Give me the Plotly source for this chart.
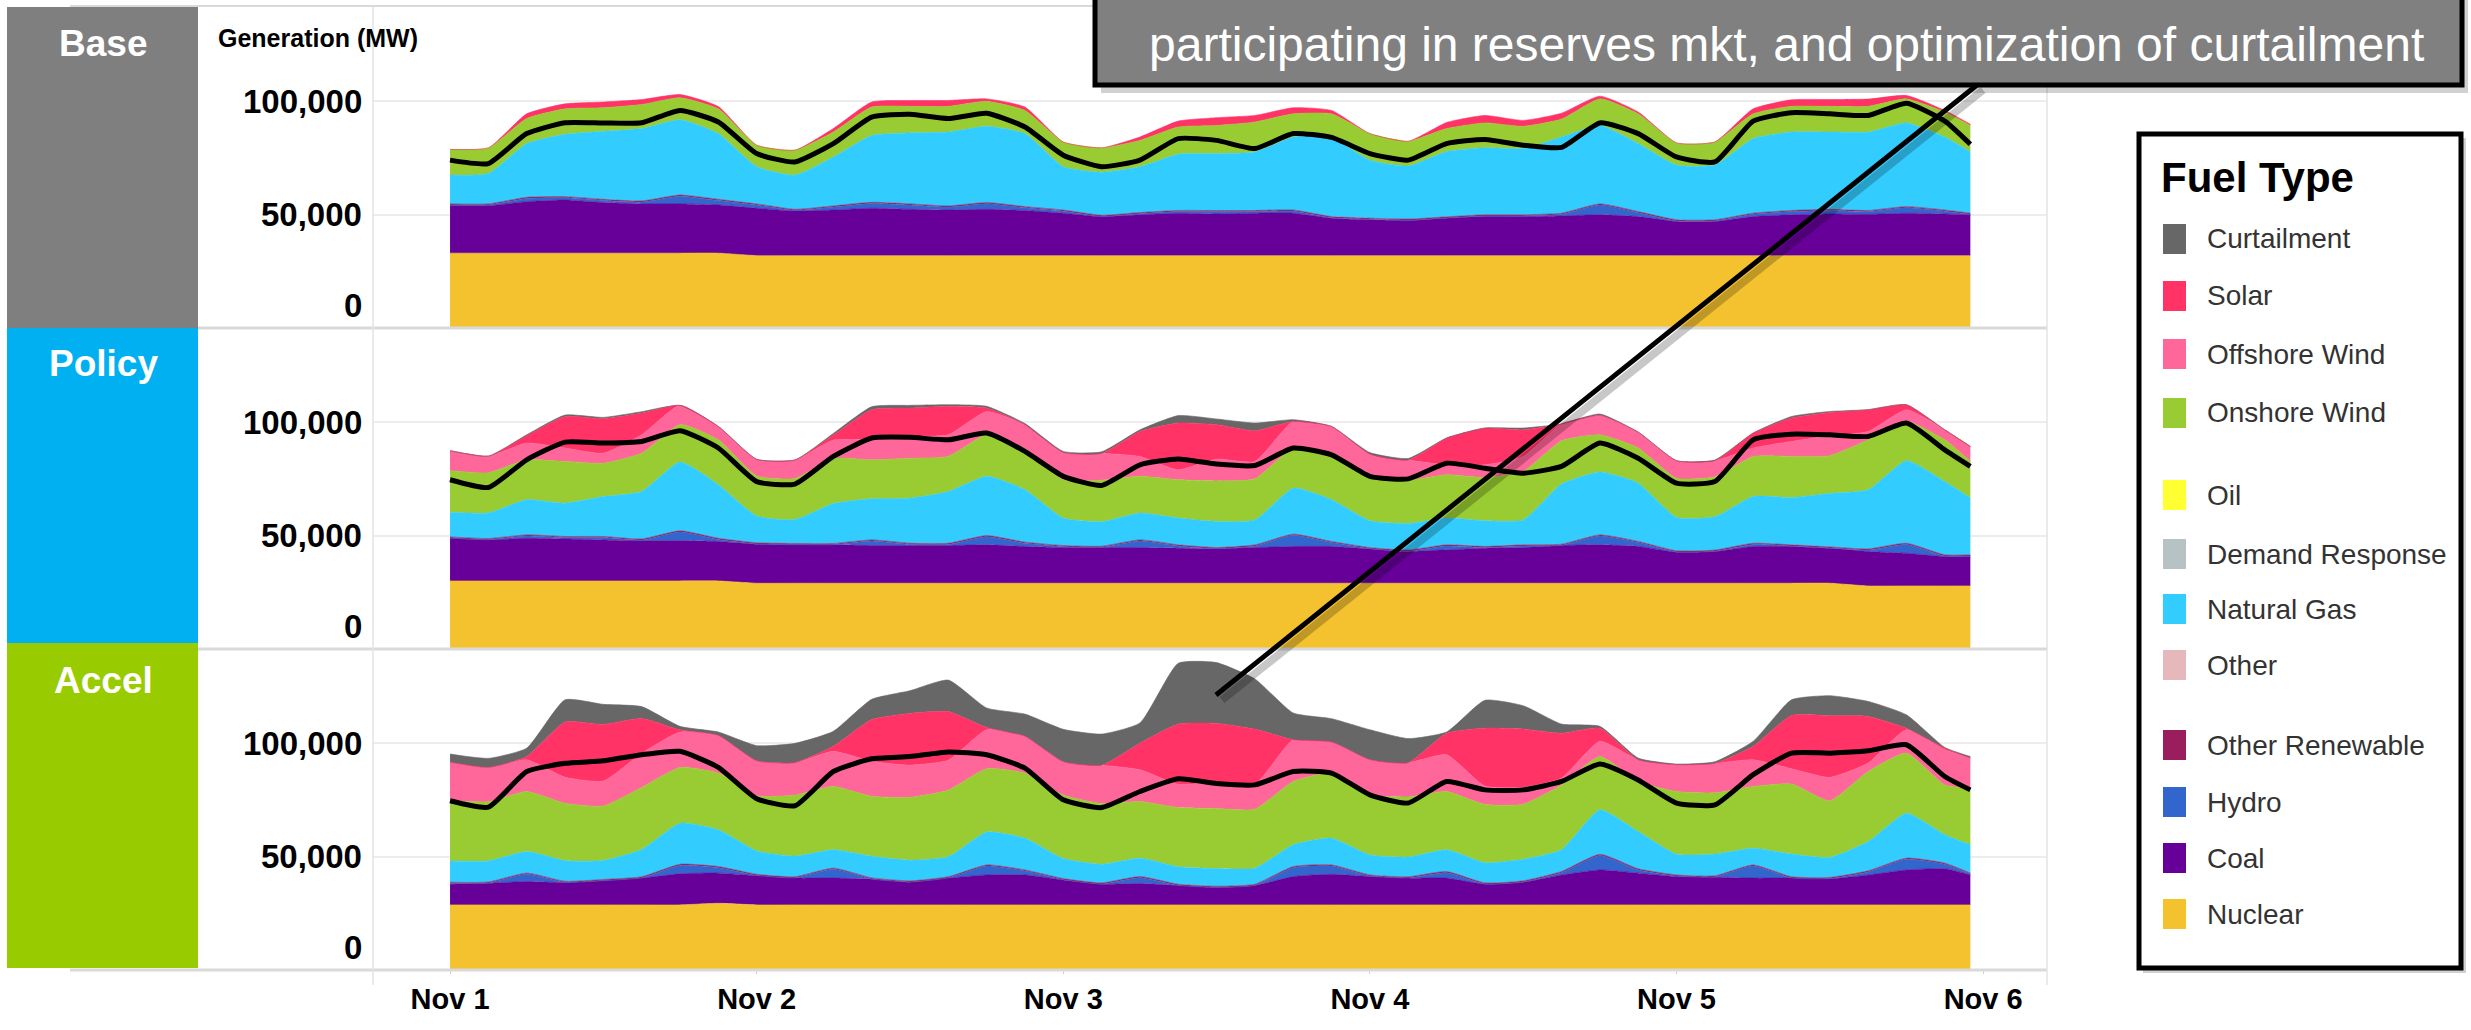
import pandas as pd
import plotly.graph_objects as go

W, H = 2471, 1030
MW = 1000  # series below are in thousands of MW

# hourly samples (hours after Nov 1 00:00)
HOURS = [0, 3, 6, 9, 12, 15, 18, 21, 24, 27, 30, 33, 36, 39, 42, 45, 48, 51, 54, 57,
         60, 63, 66, 69, 72, 75, 78, 81, 84, 87, 90, 93, 96, 99, 102, 105, 108, 111,
         114, 117, 119]
START = pd.Timestamp("2019-11-01")
TICK_DAYS = [0, 1, 2, 3, 4, 5]
TICK_LABELS = ["Nov 1", "Nov 2", "Nov 3", "Nov 4", "Nov 5", "Nov 6"]

# ---------------- Base ----------------
BASE_NUCLEAR = [33.0, 33.0, 33.0, 33.0, 33.0, 33.0, 33.0, 33.0,
                31.9, 31.9, 31.9, 31.9, 31.9, 31.9, 31.9, 31.9,
                31.9, 31.9, 31.9, 31.9, 31.9, 31.9, 31.9, 31.9,
                31.9, 31.9, 31.9, 31.9, 31.9, 31.9, 31.9, 31.9,
                31.9, 31.9, 31.9, 31.9, 31.9, 31.9, 31.9, 31.9, 31.9]
BASE_COAL = [20.9, 20.9, 22.7, 23.4, 22.3, 21.7, 21.7, 21.2,
             20.9, 19.7, 20.1, 20.9, 20.4, 20.1, 20.4, 19.9,
             18.7, 17.2, 18.0, 18.7, 18.4, 18.7, 18.7, 16.5,
             15.8, 15.5, 16.5, 17.2, 17.2, 17.5, 18.0, 17.2,
             15.0, 15.0, 17.2, 18.0, 18.4, 18.2, 18.7, 18.4, 18.0]
BASE_HYDRO = [0.3, 0.3, 1.4, 1.0, 0.9, 0.8, 3.4, 2.0,
              1.4, 0.2, 1.3, 2.1, 1.9, 1.3, 2.5, 1.2,
              0.9, 0.1, 0.5, 0.7, 1.0, 0.7, 0.9, 0.2,
              0.2, 0.1, 0.1, 0.3, 0.3, 0.7, 4.3, 1.7,
              0.3, 0.3, 1.0, 1.4, 1.5, 1.2, 2.4, 1.2, 0.2]
BASE_GAS = [12.7, 13.4, 23.7, 27.5, 30.0, 31.9, 33.2, 29.0,
            16.4, 15.1, 21.6, 29.5, 31.3, 32.6, 33.6, 32.2,
            19.1, 19.0, 20.2, 24.8, 25.1, 25.8, 32.2, 34.8,
            25.6, 23.4, 28.8, 29.6, 29.2, 33.6, 34.6, 30.0,
            24.1, 24.1, 32.9, 34.6, 34.1, 34.6, 36.9, 32.2, 27.0]
BASE_ONSHORE = [11.3, 11.3, 11.0, 11.2, 10.4, 10.6, 9.7, 10.9,
                9.5, 11.0, 11.0, 12.5, 11.7, 11.3, 11.0, 10.2,
                10.9, 10.7, 11.6, 12.0, 12.4, 13.2, 10.2, 10.5,
                11.7, 10.9, 10.1, 10.9, 9.8, 7.9, 11.7, 13.1,
                9.8, 10.2, 10.9, 11.3, 11.3, 11.3, 10.6, 11.0, 11.7]
BASE_SOLAR = [0.0, 0.0, 2.1, 2.2, 2.5, 2.2, 1.4, 1.0,
              0.0, 0.0, 1.5, 2.2, 2.6, 2.6, 1.1, 1.5,
              0.0, 0.0, 1.5, 2.6, 3.4, 2.9, 2.7, 1.5,
              0.0, 0.0, 2.7, 3.3, 2.6, 2.6, 1.2, 0.8,
              0.0, 0.0, 2.2, 2.9, 3.0, 3.2, 1.5, 0.7, 0.5]
BASE_LOAD = [74.0, 72.5, 85.7, 90.5, 90.4, 90.5, 95.9, 90.8,
             76.9, 73.2, 81.3, 93.0, 94.2, 92.3, 94.7, 88.6,
             76.2, 71.1, 74.0, 83.5, 82.7, 79.1, 85.7, 84.0,
             76.9, 74.0, 81.3, 83.1, 80.6, 79.6, 90.4, 85.7,
             75.4, 73.2, 91.2, 94.9, 94.4, 93.7, 99.1, 91.2, 81.0]

# ---------------- Policy ----------------
POLICY_NUCLEAR = [30.0, 30.0, 30.0, 30.0, 30.0, 30.0, 30.0, 30.0,
                  29.0, 29.0, 29.0, 29.0, 29.0, 29.0, 29.0, 29.0,
                  29.0, 29.0, 29.0, 29.0, 29.0, 29.0, 29.0, 29.0,
                  29.0, 29.0, 29.0, 29.0, 29.0, 29.0, 29.0, 29.0,
                  29.0, 29.0, 29.0, 29.0, 29.0, 27.8, 27.8, 27.8, 27.8]
POLICY_COAL = [18.8, 18.1, 18.8, 18.5, 18.1, 17.7, 17.7, 17.4,
               17.2, 16.9, 16.9, 16.6, 16.6, 16.6, 16.9, 16.2,
               15.7, 15.7, 15.7, 15.4, 15.1, 15.7, 16.2, 16.2,
               15.1, 14.0, 14.7, 15.4, 15.7, 16.6, 16.9, 16.2,
               13.7, 14.0, 16.2, 16.2, 15.4, 15.2, 14.4, 12.9, 12.9]
POLICY_HYDRO = [0.1, 0.1, 1.0, 0.6, 1.0, 0.3, 3.9, 0.9,
                0.1, 0.1, 0.1, 2.0, 0.5, 0.5, 3.6, 1.4,
                0.4, 0.1, 2.9, 1.0, 0.1, 0.7, 4.9, 1.7,
                0.1, 0.1, 1.7, 0.3, 0.7, 0.1, 3.9, 1.7,
                0.1, 0.1, 0.9, 0.2, 0.1, 0.6, 3.9, 0.3, 0.3]
POLICY_GAS = [10.9, 11.3, 15.5, 14.7, 17.6, 20.9, 30.3, 23.6,
              11.8, 10.6, 17.6, 18.1, 19.9, 22.8, 26.1, 23.1,
              12.1, 10.8, 11.8, 11.8, 11.5, 11.0, 20.3, 18.4,
              11.8, 11.7, 11.8, 11.3, 11.0, 26.5, 27.7, 25.7,
              14.7, 14.7, 20.6, 20.9, 23.6, 26.1, 36.4, 32.3, 25.0]
POLICY_ONSHORE = [18.3, 17.7, 17.6, 18.4, 14.7, 16.9, 16.5, 19.8,
                  17.7, 18.1, 19.9, 17.2, 17.6, 15.5, 18.3, 18.1,
                  16.9, 18.3, 16.2, 16.9, 17.9, 18.1, 17.7, 19.1,
                  19.9, 19.1, 19.1, 19.1, 21.4, 19.1, 16.4, 15.5,
                  17.3, 17.6, 17.7, 18.1, 16.6, 22.0, 17.3, 18.4, 16.2]
POLICY_OFFSHORE = [8.8, 7.3, 7.4, 5.9, 4.4, 8.1, 8.5, 5.9,
                   7.3, 8.1, 8.1, 8.8, 9.6, 9.5, 10.3, 10.6,
                   12.0, 11.8, 8.8, 4.4, 9.6, 7.7, 11.7, 13.2,
                   9.5, 8.9, 4.4, 5.6, 6.6, 7.4, 8.6, 7.0,
                   7.7, 7.1, 3.7, 6.6, 8.8, 3.7, 5.2, 4.4, 6.6]
POLICY_SOLAR = [0.0, 0.0, 3.3, 13.9, 15.2, 9.6, 0.0, 0.0,
                0.0, 0.0, 2.2, 13.3, 12.5, 12.6, 1.5, 0.0,
                0.0, 0.0, 11.0, 20.6, 15.2, 13.5, 0.0, 0.0,
                0.0, 0.0, 11.8, 16.2, 11.7, 0.0, 0.0, 0.0,
                0.0, 0.0, 6.6, 10.3, 10.3, 9.6, 2.2, 0.0, 0.0]
POLICY_CURTAIL = [0.0, 0.0, 0.3, 0.6, 0.6, 0.6, 0.0, 0.0,
                  0.0, 0.0, 0.7, 1.3, 1.2, 0.7, 0.8, 0.5,
                  0.5, 0.7, 0.7, 3.3, 2.5, 3.4, 0.8, 0.0,
                  0.7, 0.7, 0.0, 0.0, 0.8, 0.0, 0.6, 0.0,
                  0.0, 0.3, 0.0, 0.7, 0.4, 0.0, 0.0, 0.0, 0.0]
POLICY_LOAD = [74.6, 71.2, 83.4, 91.2, 90.8, 91.5, 96.2, 88.6,
               73.8, 72.7, 84.9, 93.0, 93.3, 92.2, 95.2, 87.1,
               76.1, 72.1, 81.2, 83.8, 81.5, 80.9, 88.6, 85.6,
               76.1, 75.0, 81.9, 79.7, 77.5, 80.5, 90.8, 84.1,
               73.1, 73.8, 92.2, 94.7, 94.4, 93.7, 99.6, 87.8, 80.5]

# ---------------- Accel ----------------
ACCEL_NUCLEAR = [28.7, 28.7, 28.7, 28.7, 28.7, 28.7, 28.7, 29.4,
                 28.7, 28.7, 28.7, 28.7, 28.7, 28.7, 28.7, 28.7,
                 28.7, 28.7, 28.7, 28.7, 28.7, 28.7, 28.7, 28.7,
                 28.7, 28.7, 28.7, 28.7, 28.7, 28.7, 28.7, 28.7,
                 28.7, 28.7, 28.7, 28.7, 28.7, 28.7, 28.7, 28.7, 28.7]
ACCEL_COAL = [9.1, 9.5, 10.3, 9.8, 10.6, 11.8, 13.7, 13.3,
              12.9, 11.8, 11.8, 11.3, 10.0, 11.8, 13.2, 13.2,
              11.0, 9.1, 9.4, 8.5, 7.6, 8.5, 12.5, 13.5,
              12.5, 11.8, 11.8, 9.1, 10.0, 13.2, 15.4, 14.0,
              12.5, 12.2, 11.8, 11.8, 11.5, 13.2, 15.4, 15.9, 13.2]
ACCEL_HYDRO = [0.4, 0.1, 3.2, 0.1, 0.1, 0.1, 3.7, 2.4,
               0.1, 0.1, 3.9, 0.1, 0.1, 0.1, 3.9, 1.7,
               0.1, 0.1, 2.6, 0.1, 0.1, 0.1, 3.9, 3.6,
               0.2, 0.1, 2.4, 0.1, 0.1, 1.0, 6.4, 1.4,
               0.2, 0.1, 5.3, 0.1, 0.1, 1.3, 4.7, 2.0, 0.3]
ACCEL_GAS = [9.4, 9.3, 9.5, 9.1, 8.4, 12.0, 18.1, 16.2,
             10.3, 9.1, 8.1, 9.5, 9.1, 8.8, 14.5, 14.0,
             8.8, 8.2, 8.1, 7.7, 7.8, 7.1, 9.6, 11.8,
             8.8, 8.7, 9.6, 8.9, 9.5, 9.6, 19.6, 16.4,
             9.1, 9.6, 7.4, 10.0, 8.8, 12.9, 19.8, 12.5, 12.5]
ACCEL_ONSHORE = [26.5, 26.1, 26.5, 25.3, 24.0, 27.4, 24.6, 25.0,
                 24.3, 26.9, 27.9, 26.5, 27.7, 29.4, 27.9, 28.7,
                 28.0, 26.8, 25.0, 26.1, 26.5, 26.0, 27.9, 28.7,
                 26.5, 26.5, 25.7, 25.7, 24.3, 28.6, 23.5, 22.1,
                 27.7, 27.0, 27.2, 30.9, 25.0, 30.9, 26.5, 22.0, 25.0]
ACCEL_OFFSHORE = [17.0, 15.1, 14.0, 11.5, 11.0, 15.0, 15.6, 16.6,
                  15.4, 14.3, 15.5, 15.4, 14.2, 13.2, 17.2, 16.2,
                  14.7, 16.9, 14.0, 10.3, 11.6, 11.0, 18.4, 13.7,
                  15.5, 15.1, 16.2, 8.1, 7.4, 3.0, 6.7, 9.6,
                  11.8, 13.0, 11.8, 6.7, 10.3, 3.7, 10.3, 15.5, 13.2]
ACCEL_SOLAR = [0.0, 0.0, 1.4, 24.3, 25.0, 15.4, 1.0, 0.0,
               0.0, 0.0, 2.2, 18.4, 22.8, 21.4, 1.0, 0.0,
               0.0, 0.0, 11.7, 26.5, 25.9, 24.3, 0.0, 0.0,
               0.0, 0.0, 9.5, 25.5, 25.7, 19.8, 5.8, 0.0,
               0.0, 0.0, 5.9, 23.5, 27.2, 20.6, 0.7, 0.7, 0.0]
ACCEL_CURTAIL = [3.6, 4.0, 3.7, 9.8, 8.8, 5.2, 1.5, 1.5,
                 6.7, 8.5, 6.6, 8.9, 10.0, 13.9, 8.6, 9.8,
                 14.3, 13.7, 8.9, 26.8, 26.8, 22.1, 11.8, 10.3,
                 13.2, 10.6, 0.5, 12.3, 10.3, 4.0, 0.8, 0.7,
                 0.3, 0.7, 2.2, 6.9, 8.8, 6.6, 5.9, 0.3, 0.7]
ACCEL_LOAD = [74.6, 71.8, 87.5, 91.1, 92.2, 94.9, 96.4, 89.3,
              75.5, 72.4, 87.5, 93.1, 94.1, 96.1, 94.9, 89.0,
              75.0, 71.6, 78.7, 84.3, 82.2, 81.6, 87.5, 86.8,
              77.2, 73.6, 83.1, 79.4, 79.4, 83.1, 90.8, 83.8,
              73.6, 72.8, 86.1, 95.6, 95.6, 96.6, 99.3, 85.3, 79.4]

# thin other-renewable sliver on top of hydro (same in every scenario)
OTHER_RENEWABLE = [0.5, 0.5, 0.5, 0.5, 0.5, 0.5, 0.5, 0.5,
                   0.5, 0.5, 0.5, 0.5, 0.5, 0.5, 0.5, 0.5,
                   0.5, 0.5, 0.5, 0.5, 0.5, 0.5, 0.5, 0.5,
                   0.5, 0.5, 0.5, 0.5, 0.5, 0.5, 0.5, 0.5,
                   0.5, 0.5, 0.5, 0.5, 0.5, 0.5, 0.5, 0.5, 0.5]

LEGEND_ITEMS = ["Curtailment", "Solar", "Offshore Wind", "Onshore Wind", None,
                "Oil", "Demand Response", "Natural Gas", "Other", None,
                "Other Renewable", "Hydro", "Coal", "Nuclear"]
STACK_ORDER = ["Nuclear", "Coal", "Hydro", "Other Renewable", "Other", "Natural Gas",
               "Demand Response", "Oil", "Onshore Wind", "Offshore Wind", "Solar",
               "Curtailment"]
COLORS = {
    "Curtailment": "#676767",
    "Solar": "#ff3366",
    "Offshore Wind": "#ff6699",
    "Onshore Wind": "#99cc33",
    "Oil": "#ffff33",
    "Demand Response": "#b6c2c3",
    "Natural Gas": "#33ccff",
    "Other": "#e6b8bb",
    "Other Renewable": "#9a1d5e",
    "Hydro": "#3366cc",
    "Coal": "#660099",
    "Nuclear": "#f5c22f",
}

PANELS = [
    ("Base", "#7f7f7f", {
        "Nuclear": BASE_NUCLEAR, "Coal": BASE_COAL, "Hydro": BASE_HYDRO,
        "Other Renewable": OTHER_RENEWABLE, "Natural Gas": BASE_GAS,
        "Onshore Wind": BASE_ONSHORE, "Solar": BASE_SOLAR}, BASE_LOAD),
    ("Policy", "#00b0f0", {
        "Nuclear": POLICY_NUCLEAR, "Coal": POLICY_COAL, "Hydro": POLICY_HYDRO,
        "Other Renewable": OTHER_RENEWABLE, "Natural Gas": POLICY_GAS,
        "Onshore Wind": POLICY_ONSHORE, "Offshore Wind": POLICY_OFFSHORE,
        "Solar": POLICY_SOLAR, "Curtailment": POLICY_CURTAIL}, POLICY_LOAD),
    ("Accel", "#99cc00", {
        "Nuclear": ACCEL_NUCLEAR, "Coal": ACCEL_COAL, "Hydro": ACCEL_HYDRO,
        "Other Renewable": OTHER_RENEWABLE, "Natural Gas": ACCEL_GAS,
        "Onshore Wind": ACCEL_ONSHORE, "Offshore Wind": ACCEL_OFFSHORE,
        "Solar": ACCEL_SOLAR, "Curtailment": ACCEL_CURTAIL}, ACCEL_LOAD),
]

FONT = "Liberation Sans, Arial, sans-serif"


def px(x):
    return x / W


def py(y):
    return 1 - y / H


times = [START + pd.Timedelta(hours=h) for h in HOURS]

# panel pixel bands (top, bottom) and the plot-area x extent
BANDS = [(7, 328), (328, 649), (649, 970)]
X0, X1 = 373, 2047
Y_MAX = 141500

fig = go.Figure()
for i, (label, box_color, series, load) in enumerate(PANELS):
    ax = "" if i == 0 else str(i + 1)
    for fuel in STACK_ORDER:
        if fuel not in series:
            continue
        fig.add_trace(go.Scatter(
            x=times, y=[v * MW for v in series[fuel]], name=fuel,
            stackgroup=label, mode="lines",
            line=dict(width=0.6, color=COLORS[fuel], shape="spline", smoothing=0.5),
            fillcolor=COLORS[fuel], showlegend=False,
            xaxis="x" + ax, yaxis="y" + ax))
    fig.add_trace(go.Scatter(
        x=times, y=[v * MW for v in load], name="Load", mode="lines",
        line=dict(width=5, color="#000000", shape="spline", smoothing=0.5),
        showlegend=False, xaxis="x" + ax, yaxis="y" + ax))

x_range = [START + pd.Timedelta(hours=-6.03), START + pd.Timedelta(hours=125.0)]
tick_vals = [START + pd.Timedelta(days=d) for d in TICK_DAYS]

layout = dict(
    width=W, height=H, autosize=False,
    margin=dict(l=0, r=0, t=0, b=0),
    paper_bgcolor="white", plot_bgcolor="white",
    font=dict(family=FONT, color="#000000"),
    hovermode=False,
)
for i, (top, bottom) in enumerate(BANDS):
    ax = "" if i == 0 else str(i + 1)
    last = i == len(BANDS) - 1
    layout["xaxis" + ax] = dict(
        domain=[px(X0), px(X1)], range=x_range, anchor="y" + ax,
        showgrid=False, zeroline=False, showline=False,
        showticklabels=last, tickvals=tick_vals,
        ticktext=["<b>%s</b>" % t for t in TICK_LABELS],
        ticks="outside" if last else "", ticklen=3, tickcolor="#d0d0d0",
        tickfont=dict(family=FONT, size=29, color="#000000"),
        ticklabelstandoff=0,
        **({} if i == 0 else {"matches": "x"}))
    layout["yaxis" + ax] = dict(
        domain=[py(bottom), py(top)], range=[0, Y_MAX], anchor="x" + ax,
        tickvals=[50000, 100000], showticklabels=False,
        showgrid=True, gridcolor="#ededed", gridwidth=2,
        zeroline=False, showline=False)
fig.update_layout(**layout)

shapes = []
annotations = []

# frame lines
LINE_GREY = "#d9d9d9"
shapes.append(dict(type="line", xref="paper", yref="paper", x0=px(70), x1=px(X1),
                   y0=py(6), y1=py(6), line=dict(color=LINE_GREY, width=2)))
for yb in (328, 649):
    shapes.append(dict(type="line", xref="paper", yref="paper", x0=px(198), x1=px(X1),
                       y0=py(yb), y1=py(yb), line=dict(color=LINE_GREY, width=3)))
shapes.append(dict(type="line", xref="paper", yref="paper", x0=px(70), x1=px(X1),
                   y0=py(970), y1=py(970), line=dict(color=LINE_GREY, width=3)))
for xv in (X0, X1):
    shapes.append(dict(type="line", xref="paper", yref="paper", x0=px(xv), x1=px(xv),
                       y0=py(6), y1=py(985), line=dict(color="#e3e3e3", width=1.5)))

# scenario label boxes
LABEL_BOXES = [(7, 328, 43), (328, 643, 363), (643, 968, 680)]
for (label, box_color, _, _), (top, bottom, text_y) in zip(PANELS, LABEL_BOXES):
    shapes.append(dict(type="rect", xref="paper", yref="paper", x0=px(7), x1=px(198),
                       y0=py(bottom), y1=py(top), fillcolor=box_color,
                       line=dict(width=0), layer="above"))
    annotations.append(dict(text="<b>%s</b>" % label, xref="paper", yref="paper",
                            x=px(103), y=py(text_y), showarrow=False,
                            xanchor="center", yanchor="middle",
                            font=dict(family=FONT, size=37, color="white")))

# y tick labels
for i in range(3):
    ax = "" if i == 0 else str(i + 1)
    for val, txt, shift in ((100000, "100,000", 0), (50000, "50,000", 0), (0, "0", 23)):
        annotations.append(dict(text="<b>%s</b>" % txt, xref="paper", yref="y" + ax,
                                x=px(364), y=val, yshift=shift, showarrow=False,
                                xanchor="right", yanchor="middle",
                                font=dict(family=FONT, size=33, color="#000000")))

annotations.append(dict(text="<b>Generation (MW)</b>", xref="paper", yref="paper",
                        x=px(216), y=py(38), showarrow=False, xanchor="left",
                        yanchor="middle",
                        font=dict(family=FONT, size=25, color="#000000")))

# callout box with pointer
shapes.append(dict(type="line", xref="paper", yref="paper",
                   x0=px(1983), y0=py(90), x1=px(1222), y1=py(700),
                   line=dict(color="rgba(0,0,0,0.22)", width=8)))
shapes.append(dict(type="line", xref="paper", yref="paper",
                   x0=px(1977), y0=py(85), x1=px(1216), y1=py(695),
                   line=dict(color="#000000", width=5)))
shapes.append(dict(type="rect", xref="paper", yref="paper",
                   x0=px(1101), x1=px(2468), y0=py(93), y1=py(-30),
                   fillcolor="rgba(0,0,0,0.18)", line=dict(width=0)))
shapes.append(dict(type="rect", xref="paper", yref="paper",
                   x0=px(1095), x1=px(2462), y0=py(85), y1=py(-30),
                   fillcolor="#808080", line=dict(color="#000000", width=5)))
annotations.append(dict(text="participating in reserves mkt, and optimization of curtailment",
                        xref="paper", yref="paper", x=px(1786), y=py(45),
                        showarrow=False, xanchor="center", yanchor="middle",
                        font=dict(family=FONT, size=48, color="white")))

# fuel legend
shapes.append(dict(type="rect", xref="paper", yref="paper",
                   x0=px(2143), x1=px(2466), y0=py(973), y1=py(138),
                   fillcolor="rgba(0,0,0,0.18)", line=dict(width=0)))
shapes.append(dict(type="rect", xref="paper", yref="paper",
                   x0=px(2139), x1=px(2461), y0=py(968), y1=py(134),
                   fillcolor="white", line=dict(color="#000000", width=5)))
annotations.append(dict(text="<b>Fuel Type</b>", xref="paper", yref="paper",
                        x=px(2159), y=py(177), showarrow=False, xanchor="left",
                        yanchor="middle",
                        font=dict(family=FONT, size=42, color="#000000")))
ITEM_Y = [239, 296, 354, 413, None, 495, 554, 609, 665, None, 745, 802, 858, 914]
for name, yc in zip(LEGEND_ITEMS, ITEM_Y):
    if name is None:
        continue
    shapes.append(dict(type="rect", xref="paper", yref="paper",
                       x0=px(2163), x1=px(2186), y0=py(yc + 15), y1=py(yc - 15),
                       fillcolor=COLORS[name], line=dict(width=0)))
    annotations.append(dict(text=name, xref="paper", yref="paper", x=px(2205),
                            y=py(yc), showarrow=False, xanchor="left", yanchor="middle",
                            font=dict(family=FONT, size=28, color="#333333")))

fig.update_layout(shapes=shapes, annotations=annotations)
fig.write_html("out.html")
